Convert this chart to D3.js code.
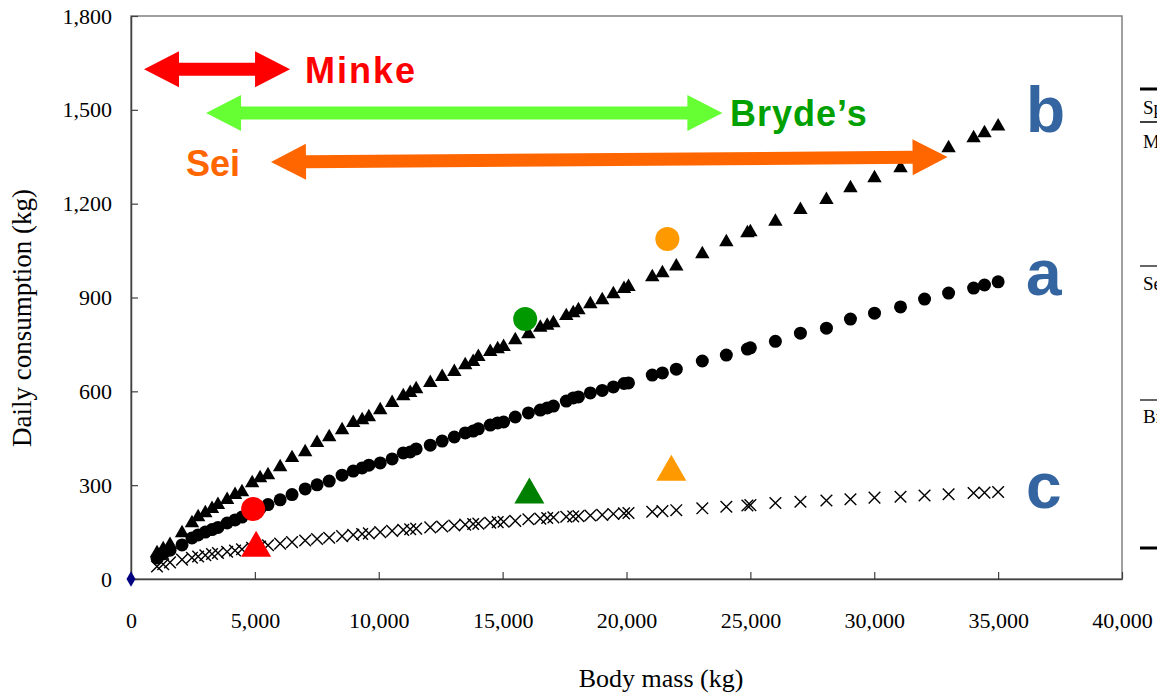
<!DOCTYPE html>
<html>
<head>
<meta charset="utf-8">
<script src="https://cdn.jsdelivr.net/npm/d3@7"></script>
<style>
  body { margin: 0; background: #fff; }
  svg { display: block; }
</style>
</head>
<body>
<div id="viz"></div>
<script>
// body mass (kg) - same masses used for all three estimates
var mass = [1050, 1300, 1575, 2060, 2460, 2710, 3000, 3270, 3510, 3880,
  4200, 4480, 4890, 5210, 5530, 6020, 6500, 7030, 7510, 8000,
  8520, 8970, 9330, 9600, 10060, 10540, 10990, 11270, 11510, 12080,
  12560, 13050, 13490, 13810, 14020, 14500, 14800, 15040, 15510, 16040,
  16520, 16800, 17050, 17570, 17850, 18060, 18540, 19020, 19470, 19900,
  20080, 21040, 21450, 22010, 23060, 24030, 24880, 25000, 26010, 27020,
  28070, 29040, 30010, 31060, 32030, 33000, 34010, 34450, 35000];

// daily consumption (kg), circles
var consA = [67, 80, 92, 109, 131, 141, 150, 158, 165, 179,
  189, 198, 215, 226, 238, 253, 270, 288, 301, 313,
  332, 345, 355, 364, 371, 384, 403, 406, 416, 428,
  441, 454, 467, 473, 480, 492, 499, 502, 518, 531,
  540, 547, 553, 569, 579, 582, 595, 603, 614, 625,
  627, 652, 659, 671, 697, 716, 735, 739, 760, 786,
  802, 831, 850, 870, 895, 914, 930, 940, 950];

// triangles
var consB = [83, 96, 109, 147, 179, 198, 211, 224, 237, 253,
  269, 278, 307, 323, 332, 358, 387, 406, 435, 454,
  476, 499, 508, 518, 540, 563, 585, 595, 607, 627,
  646, 662, 684, 694, 710, 726, 735, 742, 764, 783,
  804, 810, 818, 841, 850, 860, 879, 892, 911, 928,
  934, 965, 978, 1000, 1039, 1077, 1106, 1109, 1143, 1180,
  1212, 1250, 1282, 1314, 1346, 1378, 1410, 1426, 1447];

// crosses
var consC = [40, 47, 53, 62, 68, 72, 76, 80, 83, 87,
  91, 95, 100, 104, 108, 113, 118, 123, 128, 132,
  137, 141, 144, 146, 150, 154, 157, 159, 161, 165,
  168, 171, 174, 176, 177, 180, 182, 183, 186, 191,
  193, 195, 197, 199, 200, 201, 203, 205, 208, 210,
  211, 215, 217, 220, 226, 231, 235, 236, 243, 247,
  251, 255, 260, 263, 267, 271, 275, 276, 278];

// observed values per species (big coloured markers)
var species = ['Minke', "Bryde\u2019s", 'Sei'];
var spColors = ['#ff0000', '#009900', '#ff9900'];
var spTriColors = ['#ff0000', '#008000', '#ff9900'];
var obsCircleMass = [4930, 15910, 21650];
var obsCircleCons = [224, 831, 1087];
var obsTriMass = [5050, 16080, 21810];
var obsTriCons = [99, 269, 342];

// mass ranges shown with arrows
var rangeFrom = [525, 3030, 5650];
var rangeTo = [6420, 23870, 32960];
var rangeYFrom = [1630, 1490, 1333];
var rangeYTo = [1630, 1490, 1349];
var arrowColors = ['#ff0000', '#66ff33', '#ff6600'];

var xTicks = [0, 5000, 10000, 15000, 20000, 25000, 30000, 35000, 40000];
var yTicks = [0, 300, 600, 900, 1200, 1500, 1800];

// curve letters, placed by their baseline (in kg/day)
var curveLabels = ['a', 'b', 'c'];
var curveLabelCons = [908, 1429, 227];

// bits of the table on the right, cut off by the page edge
var tableRows = ['Species', 'Minke', 'Sei', "Bryde's"];

var W = 1157, H = 693;
var LEFT = 131, RIGHT = 1122, TOP = 16, BOTTOM = 579;

var svg = d3.select('#viz')
  .append('svg')
  .attr('width', W)
  .attr('height', H);

var x = d3.scaleLinear().domain([0, 40000]).range([LEFT, RIGHT]);
var y = d3.scaleLinear().domain([0, 1800]).range([BOTTOM, TOP]);

// frame (top / right are lighter)
svg.append('rect')
  .attr('x', LEFT).attr('y', TOP)
  .attr('width', RIGHT - LEFT).attr('height', BOTTOM - TOP)
  .style('fill', 'none')
  .style('stroke', '#808080')
  .style('stroke-width', 1.5);

var fmt = d3.format(',');

var xAxis = svg.append('g')
  .attr('transform', 'translate(0,' + BOTTOM + ')')
  .call(d3.axisBottom(x).tickValues(xTicks).tickFormat(fmt)
    .tickSizeInner(-7).tickSizeOuter(0).tickPadding(33));

var yAxis = svg.append('g')
  .attr('transform', 'translate(' + LEFT + ',0)')
  .call(d3.axisLeft(y).tickValues(yTicks).tickFormat(fmt)
    .tickSizeInner(-7).tickSizeOuter(0).tickPadding(19));

[xAxis, yAxis].forEach(function(g) {
  g.select('.domain').style('stroke', '#404040').style('stroke-width', 1.5);
  g.selectAll('.tick line').style('stroke', '#404040').style('stroke-width', 1.2);
  g.selectAll('text')
    .style('font-family', '"Liberation Serif", "Times New Roman", serif')
    .style('font-size', '22px')
    .style('fill', '#000');
});

svg.append('text')
  .attr('transform', 'translate(31,318) rotate(-90)')
  .attr('text-anchor', 'middle')
  .style('font-family', '"Liberation Serif", "Times New Roman", serif')
  .style('font-size', '27px')
  .text('Daily consumption (kg)');

svg.append('text')
  .attr('x', 661).attr('y', 687)
  .attr('text-anchor', 'middle')
  .style('font-family', '"Liberation Serif", "Times New Roman", serif')
  .style('font-size', '26px')
  .text('Body mass (kg)');

// the three model curves
var pts = mass.map(function(m, i) {
  return { m: m, a: consA[i], b: consB[i], c: consC[i] };
});

svg.append('g').selectAll('path')
  .data(pts).enter().append('path')
  .attr('transform', function(d) { return 'translate(' + x(d.m) + ',' + y(d.c) + ')'; })
  .attr('d', d3.symbol(d3.symbolTimes, 90))
  .style('fill', 'none')
  .style('stroke', '#000')
  .style('stroke-width', 1.4);

svg.append('g').selectAll('circle')
  .data(pts).enter().append('circle')
  .attr('cx', function(d) { return x(d.m); })
  .attr('cy', function(d) { return y(d.a); })
  .attr('r', 6.5)
  .style('fill', '#000');

svg.append('g').selectAll('path')
  .data(pts).enter().append('path')
  .attr('transform', function(d) { return 'translate(' + x(d.m) + ',' + y(d.b) + ')'; })
  .attr('d', d3.symbol(d3.symbolTriangle, 90))
  .style('fill', '#000');

// origin marker
svg.append('path')
  .attr('transform', 'translate(' + x(0) + ',' + y(0) + ')')
  .attr('d', d3.symbol(d3.symbolDiamond, 70))
  .style('fill', '#000080');

// observed points
species.forEach(function(s, i) {
  svg.append('circle')
    .attr('cx', x(obsCircleMass[i]))
    .attr('cy', y(obsCircleCons[i]))
    .attr('r', 12)
    .style('fill', spColors[i]);
  svg.append('path')
    .attr('transform', 'translate(' + x(obsTriMass[i]) + ',' + y(obsTriCons[i]) + ')')
    .attr('d', d3.symbol(d3.symbolTriangle, 390))
    .style('fill', spTriColors[i]);
});

// double headed arrow between two points
function arrow(x1, y1, x2, y2, color) {
  var dx = x2 - x1, dy = y2 - y1;
  var len = Math.sqrt(dx * dx + dy * dy);
  var ang = Math.atan2(dy, dx) * 180 / Math.PI;
  var hl = 35, hw = 18, sw = 6.5;
  var p = [
    [0, 0], [hl, -hw], [hl, -sw], [len - hl, -sw], [len - hl, -hw],
    [len, 0], [len - hl, hw], [len - hl, sw], [hl, sw], [hl, hw]
  ];
  svg.append('path')
    .attr('transform', 'translate(' + x1 + ',' + y1 + ') rotate(' + ang + ')')
    .attr('d', d3.line()(p) + 'Z')
    .style('fill', color);
}

for (var i = 0; i < species.length; i++) {
  arrow(x(rangeFrom[i]), y(rangeYFrom[i]), x(rangeTo[i]), y(rangeYTo[i]), arrowColors[i]);
}

var labelFont = '"Liberation Sans", Arial, sans-serif';
// species names next to the arrows
svg.append('text').attr('x', 305).attr('y', 83)
  .style('font-family', labelFont).style('font-weight', 'bold')
  .style('font-size', '36px').style('letter-spacing', '2px')
  .style('fill', '#ff0000').text(species[0]);
svg.append('text').attr('x', 730).attr('y', 126)
  .style('font-family', labelFont).style('font-weight', 'bold')
  .style('font-size', '36px').style('letter-spacing', '1px')
  .style('fill', '#00a000').text(species[1]);
svg.append('text').attr('x', 186).attr('y', 176)
  .style('font-family', labelFont).style('font-weight', 'bold')
  .style('font-size', '36px').style('fill', '#ff6600').text(species[2]);

// a, b, c
curveLabels.forEach(function(l, i) {
  svg.append('text')
    .attr('x', 1026)
    .attr('y', y(curveLabelCons[i]))
    .style('font-family', labelFont).style('font-weight', 'bold')
    .style('font-size', '64px').style('fill', '#3465a0')
    .text(l);
});

// table fragment at the far right
var tx = 1140;
svg.append('line').attr('x1', tx).attr('x2', W).attr('y1', 89).attr('y2', 89)
  .style('stroke', '#000').style('stroke-width', 3);
svg.append('line').attr('x1', tx).attr('x2', W).attr('y1', 122).attr('y2', 122)
  .style('stroke', '#000').style('stroke-width', 1.5);
svg.append('line').attr('x1', tx).attr('x2', W).attr('y1', 266).attr('y2', 266)
  .style('stroke', '#000').style('stroke-width', 1.2);
svg.append('line').attr('x1', tx).attr('x2', W).attr('y1', 400).attr('y2', 400)
  .style('stroke', '#000').style('stroke-width', 1.2);
svg.append('line').attr('x1', tx).attr('x2', W).attr('y1', 548).attr('y2', 548)
  .style('stroke', '#000').style('stroke-width', 3);
var rowY = [114, 148, 290, 423];
tableRows.forEach(function(t, i) {
  svg.append('text').attr('x', 1143).attr('y', rowY[i])
    .style('font-family', '"Liberation Serif", "Times New Roman", serif')
    .style('font-size', '19px')
    .text(t);
});
</script>
</body>
</html>
